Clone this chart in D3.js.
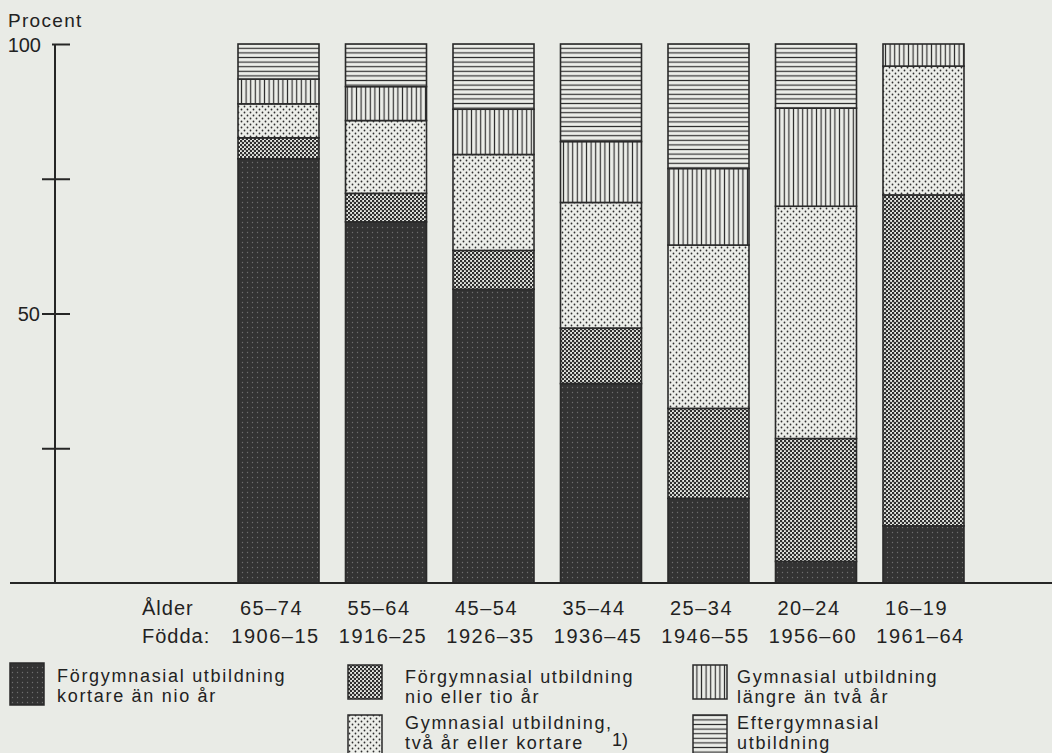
<!DOCTYPE html>
<html>
<head>
<meta charset="utf-8">
<script src="https://cdn.jsdelivr.net/npm/d3@7"></script>
<style>
  html, body { margin: 0; padding: 0; background: #e9ebe6; }
  svg { display: block; }
  text { font-family: "Liberation Sans", Arial, sans-serif; fill: #222222; }
</style>
</head>
<body>
<div id="chart"></div>
<script>
// age groups and birth years (x axis)
var ages = ["65–74", "55–64", "45–54", "35–44", "25–34", "20–24", "16–19"];
var born = ["1906–15", "1916–25", "1926–35", "1936–45", "1946–55", "1956–60", "1961–64"];

// education levels, bottom to top
var categories = [
  "Förgymnasial utbildning\nkortare än nio år",
  "Förgymnasial utbildning\nnio eller tio år",
  "Gymnasial utbildning,\ntvå år eller kortare",
  "Gymnasial utbildning\nlängre än två år",
  "Eftergymnasial\nutbildning"
];

// percent per age group
var kortareNio   = [78.7, 67.0, 54.5, 37.0, 15.7,  4.0, 10.6];
var nioTio       = [ 3.9,  5.3,  7.2, 10.3, 16.7, 22.8, 61.4];
var gymKort      = [ 6.3, 13.5, 17.8, 23.3, 30.3, 43.1, 23.9];
var gymLang      = [ 4.6,  6.3,  8.4, 11.3, 14.2, 18.2,  4.1];
var eftergym     = [ 6.5,  7.9, 12.1, 18.1, 23.1, 11.9,  0.0];

var yTicks = [25, 50, 75, 100];
var yLabels = { 50: "50", 100: "100" };

var W = 1052, H = 753;
var keys = ["k0", "k1", "k2", "k3", "k4"];
var series = [kortareNio, nioTio, gymKort, gymLang, eftergym];
var patternIds = ["p-dark", "p-cross", "p-light", "p-vert", "p-horiz"];

var rows = ages.map(function (a, i) {
  var r = { age: a };
  keys.forEach(function (k, j) { r[k] = series[j][i]; });
  return r;
});

var svg = d3.select("#chart").append("svg")
  .attr("width", W)
  .attr("height", H);

// halftone / line patterns
var defs = svg.append("defs");
var ink = "#2f2f2f", paper = "#eceee9";

var pd = defs.append("pattern").attr("id", "p-dark").attr("patternUnits", "userSpaceOnUse")
  .attr("width", 5).attr("height", 5);
pd.append("rect").attr("width", 5).attr("height", 5).attr("fill", "#333333");
pd.append("circle").attr("cx", 2.5).attr("cy", 2.5).attr("r", 0.7).attr("fill", "#6e6e6e");

var pc = defs.append("pattern").attr("id", "p-cross").attr("patternUnits", "userSpaceOnUse")
  .attr("width", 4).attr("height", 4);
pc.append("rect").attr("width", 4).attr("height", 4).attr("fill", paper);
pc.append("circle").attr("cx", 1).attr("cy", 1).attr("r", 1.3).attr("fill", ink);
pc.append("circle").attr("cx", 3).attr("cy", 3).attr("r", 1.3).attr("fill", ink);

var pl = defs.append("pattern").attr("id", "p-light").attr("patternUnits", "userSpaceOnUse")
  .attr("width", 6).attr("height", 6);
pl.append("rect").attr("width", 6).attr("height", 6).attr("fill", paper);
pl.append("circle").attr("cx", 1.5).attr("cy", 1.5).attr("r", 0.9).attr("fill", ink);
pl.append("circle").attr("cx", 4.5).attr("cy", 4.5).attr("r", 0.9).attr("fill", ink);

var pv = defs.append("pattern").attr("id", "p-vert").attr("patternUnits", "userSpaceOnUse")
  .attr("width", 4.6).attr("height", 4);
pv.append("rect").attr("width", 4.6).attr("height", 4).attr("fill", paper);
pv.append("line").attr("x1", 2.3).attr("x2", 2.3).attr("y1", 0).attr("y2", 4)
  .attr("stroke", ink).attr("stroke-width", 1.2);

var ph = defs.append("pattern").attr("id", "p-horiz").attr("patternUnits", "userSpaceOnUse")
  .attr("width", 4).attr("height", 4.6);
ph.append("rect").attr("width", 4).attr("height", 4.6).attr("fill", paper);
ph.append("line").attr("x1", 0).attr("x2", 4).attr("y1", 2.3).attr("y2", 2.3)
  .attr("stroke", ink).attr("stroke-width", 1.2);

// scales
var x = d3.scaleBand().domain(ages).range([238, 964]).paddingInner(0.2465).paddingOuter(0);
var y = d3.scaleLinear().domain([0, 100]).range([583, 44]);

var stacked = d3.stack().keys(keys)(rows);

// bars
var layer = svg.append("g").selectAll("g")
  .data(stacked)
  .enter().append("g")
  .attr("fill", function (d, i) { return "url(#" + patternIds[i] + ")"; });

layer.selectAll("rect")
  .data(function (d) { return d.filter(function (s) { return s[1] - s[0] > 0; }); })
  .enter().append("rect")
  .attr("x", function (d) { return x(d.data.age); })
  .attr("y", function (d) { return y(d[1]); })
  .attr("width", x.bandwidth())
  .attr("height", function (d) { return y(d[0]) - y(d[1]); })
  .attr("stroke", "#2a2a2a")
  .attr("stroke-width", 1.6);

// y axis
var yAxis = d3.axisLeft(y)
  .tickValues(yTicks)
  .tickSize(13)
  .tickFormat(function (d) { return yLabels[d] || ""; });

var ag = svg.append("g")
  .attr("transform", "translate(55,0)")
  .call(yAxis);
ag.select(".domain").remove();
ag.selectAll(".tick line")
  .attr("x1", function (d) { return d === 100 ? -3 : -13; })
  .attr("x2", 15)
  .attr("stroke", "#262626")
  .attr("stroke-width", 2);
ag.selectAll(".tick text")
  .attr("x", function (d) { return d === 100 ? -14 : -15; })
  .attr("dy", "0.36em")
  .style("font-size", "20px")
  .style("font-family", "Liberation Sans, Arial, sans-serif")
  .attr("fill", "#222222");

svg.append("line")
  .attr("x1", 55).attr("x2", 55)
  .attr("y1", y(100)).attr("y2", y(0))
  .attr("stroke", "#262626").attr("stroke-width", 2);

svg.append("line")
  .attr("x1", 10).attr("x2", W)
  .attr("y1", y(0)).attr("y2", y(0))
  .attr("stroke", "#262626").attr("stroke-width", 2);

svg.append("text")
  .attr("x", 8).attr("y", 27)
  .style("font-size", "19px").style("letter-spacing", "1.3px")
  .text("Procent");

// x labels
svg.append("text").attr("x", 142).attr("y", 615)
  .style("font-size", "20px").style("letter-spacing", "1px").text("Ålder");
svg.append("text").attr("x", 142).attr("y", 643)
  .style("font-size", "20px").style("letter-spacing", "1px").text("Födda:");

svg.append("g").selectAll("text")
  .data(ages).enter().append("text")
  .attr("x", function (d) { return x(d) + x.bandwidth() / 2 - 7; })
  .attr("y", 615)
  .attr("text-anchor", "middle")
  .style("font-size", "20px").style("letter-spacing", "1.5px")
  .text(function (d) { return d; });

svg.append("g").selectAll("text")
  .data(born).enter().append("text")
  .attr("x", function (d, i) { return x(ages[i]) + x.bandwidth() / 2 - 3; })
  .attr("y", 643)
  .attr("text-anchor", "middle")
  .style("font-size", "20px").style("letter-spacing", "1.5px")
  .text(function (d) { return d; });

// legend
var legendPos = [
  { sx: 10,  sy: 663, sw: 34, sh: 42, tx: 57,  ty: 682 },
  { sx: 348, sy: 665, sw: 34, sh: 34, tx: 405, ty: 683 },
  { sx: 348, sy: 715, sw: 34, sh: 40, tx: 405, ty: 729 },
  { sx: 693, sy: 665, sw: 34, sh: 34, tx: 737, ty: 683 },
  { sx: 693, sy: 715, sw: 34, sh: 40, tx: 737, ty: 729 }
];

var lg = svg.append("g").selectAll("g")
  .data(categories).enter().append("g");

lg.append("rect")
  .attr("x", function (d, i) { return legendPos[i].sx; })
  .attr("y", function (d, i) { return legendPos[i].sy; })
  .attr("width", function (d, i) { return legendPos[i].sw; })
  .attr("height", function (d, i) { return legendPos[i].sh; })
  .attr("fill", function (d, i) { return "url(#" + patternIds[i] + ")"; })
  .attr("stroke", "#2a2a2a")
  .attr("stroke-width", 1.5);

lg.each(function (d, i) {
  var g = d3.select(this);
  d.split("\n").forEach(function (line, j) {
    g.append("text")
      .attr("x", legendPos[i].tx)
      .attr("y", legendPos[i].ty + j * 20)
      .style("font-size", "18px")
      .style("letter-spacing", "1.7px")
      .text(line);
  });
});

svg.append("text").attr("x", 612).attr("y", 746)
  .style("font-size", "18px").text("1)");
</script>
</body>
</html>
